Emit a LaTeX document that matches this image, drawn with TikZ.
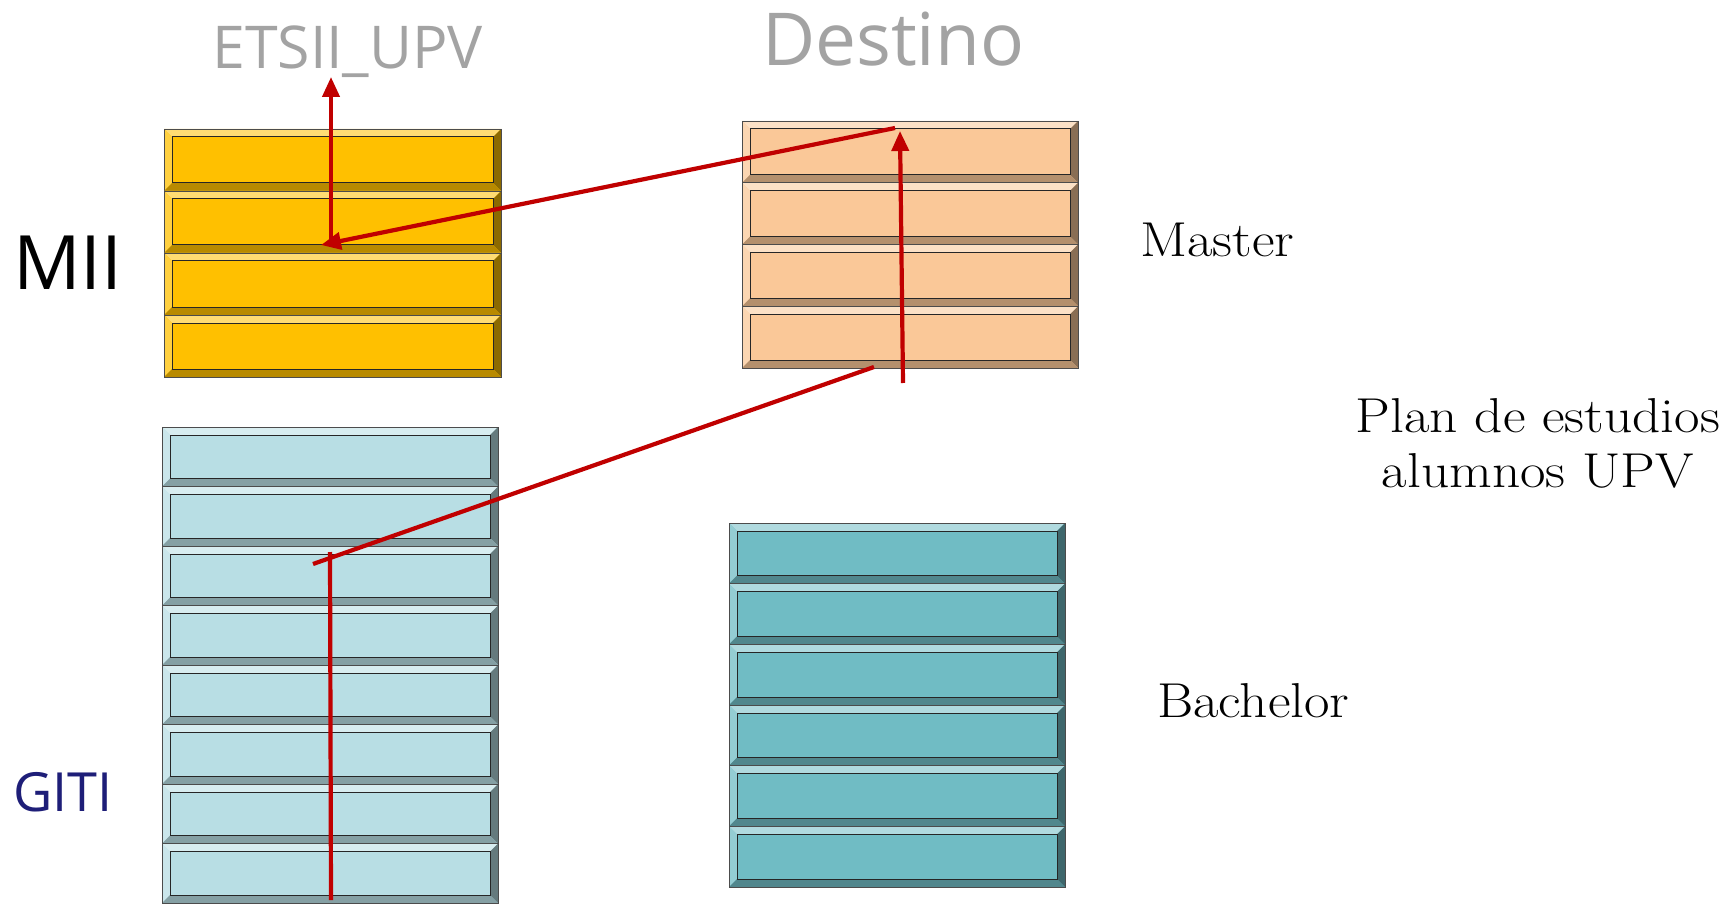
\documentclass[tikz,border=0pt]{standalone}
\usepackage{fontspec}
\setmainfont{Latin Modern Roman}[FakeStretch=1.13]
\newfontfamily\uisans{Open Sans}
\usetikzlibrary{arrows.meta}
\definecolor{cyel}{RGB}{255,192,0}
\definecolor{cpeach}{RGB}{250,200,152}
\definecolor{cpale}{RGB}{184,222,228}
\definecolor{cteal}{RGB}{112,188,196}
\definecolor{cred}{RGB}{192,0,0}
\definecolor{cgray}{RGB}{163,163,163}
\definecolor{cnavy}{RGB}{30,30,120}
\def\bw{8}
\newcommand{\bevrow}[5]{%
  \fill[#5] (#1,#2) rectangle (#3,#4);
  \fill[#5!55!white] (#1,#2) -- (#3,#2) -- ({#3-\bw},{#2+\bw}) -- ({#1+\bw},{#2+\bw}) -- cycle;
  \fill[#5!75!white] (#1,#2) -- ({#1+\bw},{#2+\bw}) -- ({#1+\bw},{#4-\bw}) -- (#1,#4) -- cycle;
  \fill[#5!55!black] (#3,#2) -- ({#3-\bw},{#2+\bw}) -- ({#3-\bw},{#4-\bw}) -- (#3,#4) -- cycle;
  \fill[#5!72!black] (#1,#4) -- ({#1+\bw},{#4-\bw}) -- ({#3-\bw},{#4-\bw}) -- (#3,#4) -- cycle;
  \draw[line width=1pt,black!85] ({#1+\bw},{#2+\bw}) rectangle ({#3-\bw},{#4-\bw});
  \draw[line width=0.8pt,black!70] (#1,#2) rectangle (#3,#4);
}
\newcommand{\bevstack}[6]{% x1 ytop x2 rowh n color
  \foreach \k in {1,...,#5}{%
    \pgfmathsetmacro\ya{#2+(\k-1)*#4}%
    \pgfmathsetmacro\yb{#2+\k*#4}%
    \bevrow{#1}{\ya}{#3}{\yb}{#6}%
  }%
}
\tikzset{
  redline/.style={draw=cred,line width=4.2pt},
  redarrow/.style={redline,-{Triangle[length=20pt,width=17pt]}},
  lbl/.style={inner sep=0pt,anchor=base west},
  sanslbl/.style={lbl,font=\uisans},
}
\begin{document}
\begin{tikzpicture}[x=1pt,y=-1pt]
\useasboundingbox (0,0) rectangle (1731,909);
\fill[white] (0,0) rectangle (1731,909);
% boxes
\bevstack{164}{129}{501}{62}{4}{cyel}
\bevstack{742}{121}{1078}{61.75}{4}{cpeach}
\bevstack{162}{427}{498}{59.5}{8}{cpale}
\bevstack{729}{523}{1065}{60.67}{6}{cteal}
% labels
\node[sanslbl,text=cgray,font=\uisans\fontsize{59}{64}\selectfont] (etsii) at (212,69) {ETSII\_UPV};
\node[sanslbl,text=cgray,font=\uisans\fontsize{73}{80}\selectfont] (destino) at (762,66) {Destino};
\node[sanslbl,text=black,font=\uisans\fontsize{75}{80}\selectfont] (mii) at (13,289) {MII};
\node[sanslbl,text=cnavy,font=\uisans\fontsize{54}{60}\selectfont] (giti) at (13,811) {GITI};
\node[lbl,font=\fontsize{49}{55}\selectfont] (master) at (1140,257) {Master};
\node[inner sep=0pt,anchor=base,font=\fontsize{49}{55}\selectfont] (plan1) at (1538,432) {Plan de estudios};
\node[inner sep=0pt,anchor=base,font=\fontsize{49}{55}\selectfont] (plan2) at (1538,487) {alumnos UPV};
\node[lbl,font=\fontsize{49}{55}\selectfont] (bachelor) at (1157,717) {Bachelor};
% connector end points
\coordinate (miiC) at (331,243);
\coordinate (etsiiT) at (331,77);
\coordinate (miiT) at (321,245);
\coordinate (destTop) at (895,128);
\coordinate (destUp) at (900,131);
\coordinate (destLow) at (903,383);
\coordinate (destBot) at (874,367);
\coordinate (gitiS) at (313,564);
\coordinate (gitiV) at (330,552);
\coordinate (gitiB) at (331,900);
% connectors
\draw[redline] (gitiB) -- (gitiV);
\draw[redline] (gitiS) -- (destBot);
\draw[redarrow] (destLow) -- (destUp);
\draw[redarrow] (destTop) -- (miiT);
\draw[redarrow] (miiC) -- (etsiiT);
\end{tikzpicture}
\end{document}
